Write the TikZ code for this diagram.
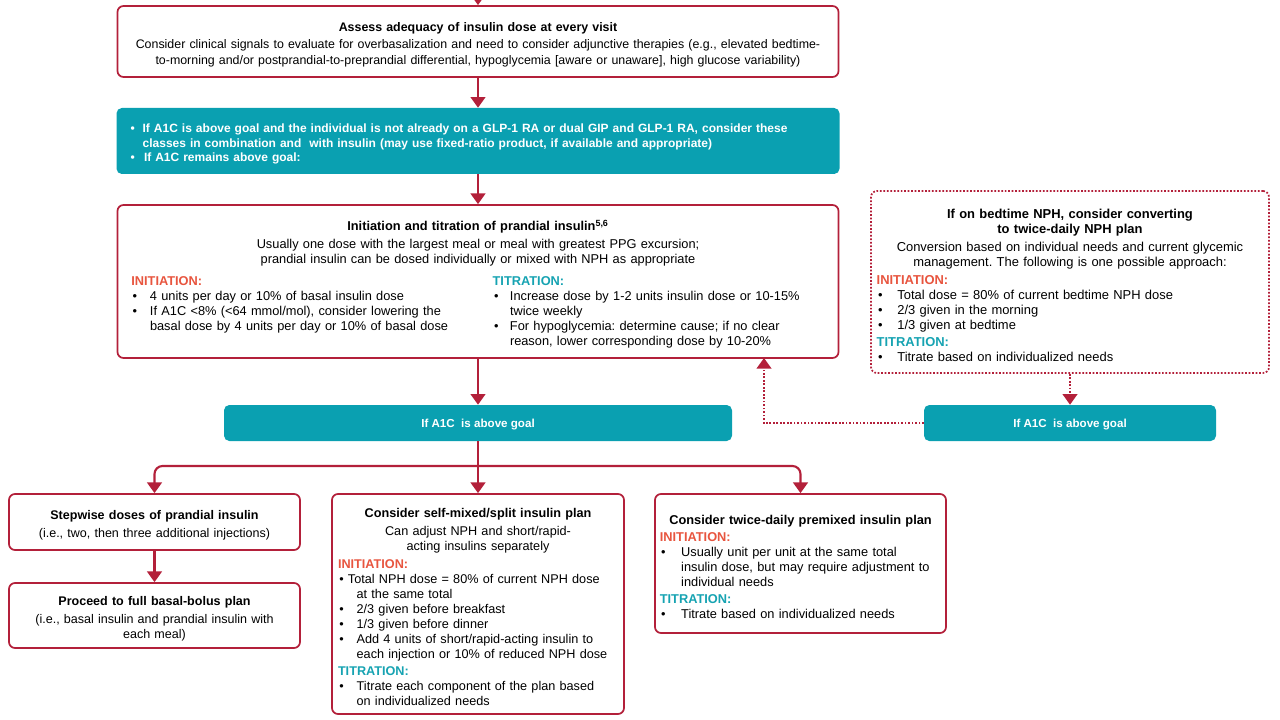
\documentclass[tikz,border=0pt]{standalone}
\usepackage{fontspec}
\setmainfont{Liberation Sans}
\usetikzlibrary{arrows.meta}
\setlength{\parindent}{0pt}
\frenchspacing
\definecolor{adared}{HTML}{B3203A}
\definecolor{adateal}{HTML}{0AA0B1}
\definecolor{initred}{HTML}{E8553F}
\definecolor{titteal}{HTML}{16A3B2}
\newcommand{\fsz}[2]{\fontsize{#1}{#2}\selectfont}
\newcommand{\itm}[2][14pt]{\par\hangindent=#1\hangafter=1\noindent\makebox[#1][l]{\hspace{1pt}\textbullet}#2}
\newcommand{\ini}{\leavevmode{\color{initred}\bfseries INITIATION:}}
\newcommand{\tit}{\leavevmode{\color{titteal}\bfseries TITRATION:}}
\begin{document}
\begin{tikzpicture}[x=0.75pt,y=-0.75pt, %1 unidade = 1 pixel
  redbox/.style={draw=adared, line width=1.3pt, rounded corners=4.5pt, fill=white, inner sep=2pt, align=left,
    execute at begin node=\rule{0pt}{12pt}},
  dotbox/.style={redbox, dash pattern=on 1.3pt off 1.3pt},
  tealbox/.style={fill=adateal, rounded corners=4pt, text=white, inner sep=2pt, align=left},
  goalbox/.style={tealbox, minimum height=27pt, align=center, text height=6.2pt, text depth=0pt, font=\fsz{8.7}{10}\bfseries},
  arr/.style={draw=adared, line width=1.6pt, -{Triangle[width=11pt,length=8pt]}},
  dotarr/.style={arr, dash pattern=on 1.3pt off 1.3pt}]
\useasboundingbox (0,0) rectangle (1280,720); %Moldura
  %Caixas de cima
\node[redbox, minimum width=540.75pt, minimum height=53.25pt, text width=532pt, font=\fsz{9.3}{12}] (assess) at (478,41.5)
  {{\centering\bfseries Assess adequacy of insulin dose at every visit\par}\vspace{1pt}
   {\centering Consider clinical signals to evaluate for overbasalization and need to consider adjunctive therapies (e.g., elevated bedtime-\\
   to-morning and/or postprandial-to-preprandial differential, hypoglycemia [aware or unaware], high glucose variability)\par}};
\node[tealbox, minimum width=542.25pt, minimum height=49.5pt, text width=523pt, font=\fsz{9}{11}\bfseries] (glp) at (478,141)
  {\itm[10pt]{If A1C is above goal and the individual is not already on a GLP-1 RA or dual GIP and GLP-1 RA, consider these\newline
   classes in combination and\ \ with insulin (may use fixed-ratio product, if available and appropriate)}
   \itm[11pt]{If A1C remains above goal:}\par};
\node[redbox, minimum width=540.75pt, minimum height=114.75pt, text width=520pt, font=\fsz{9.6}{11.25}] (prandial) at (478,281.5)
  {{\centering\bfseries Initiation and titration of prandial insulin\textsuperscript{5,6}\par}\vspace{2.2pt}
   {\centering Usually one dose with the largest meal or meal with greatest PPG excursion;\\
   prandial insulin can be dosed individually or mixed with NPH as appropriate\par}\vspace{5pt}
   \begin{minipage}[t]{271pt}\fsz{9.6}{11.25}
   \ini
   \itm{4 units per day or 10\% of basal insulin dose}
   \itm{If A1C <8\% (<64 mmol/mol), consider lowering the\newline basal dose by 4 units per day or 10\% of basal dose}
   \end{minipage}%
   \begin{minipage}[t]{249pt}\fsz{9.6}{11.25}
   \tit
   \itm[13pt]{Increase dose by 1-2 units insulin dose or 10-15\%\newline twice weekly}
   \itm[13pt]{For hypoglycemia: determine cause; if no clear\newline reason, lower corresponding dose by 10-20\%}
   \end{minipage}\par};
  %Caixa pontilhada NPH
\node[dotbox, minimum width=298.5pt, minimum height=136.5pt, text width=290pt, font=\fsz{9.7}{11.25}] (nph) at (1070,282)
  {{\centering\bfseries If on bedtime NPH, consider converting\\ to twice-daily NPH plan\par}\vspace{2pt}
   {\centering Conversion based on individual needs and current glycemic\\ management. The following is one possible approach:\par}\vspace{2pt}
   \ini
   \itm[15.5pt]{Total dose = 80\% of current bedtime NPH dose}
   \itm[15.5pt]{2/3 given in the morning}
   \itm[15.5pt]{1/3 given at bedtime}
   \par\vspace{1.5pt}
   \tit
   \itm[15.5pt]{Titrate based on individualized needs}\par};
  %Caixas "If A1C is above goal"
\node[goalbox, minimum width=381pt] (goal) at (478,423) {If A1C\ \ is above goal};
\node[goalbox, minimum width=219pt] (goalb) at (1070,423) {If A1C\ \ is above goal};
  %Caixas de baixo
\node[redbox, minimum width=218.25pt, minimum height=42pt, text width=214pt, align=center, font=\fsz{9.4}{11.25}] (stepwise) at (154.5,522)
  {{\bfseries Stepwise doses of prandial insulin\par}\vspace{2pt}(i.e., two, then three additional injections)};
\node[redbox, minimum width=218.25pt, minimum height=48.75pt, text width=214pt, align=center, font=\fsz{9.4}{11.25}] (basal) at (154.5,615.5)
  {{\bfseries Proceed to full basal-bolus plan\par}\vspace{2pt}(i.e., basal insulin and prandial insulin with\\ each meal)};
\node[redbox, minimum width=219pt, minimum height=165pt, text width=210pt, font=\fsz{9.5}{11.25}] (selfmix) at (478,604)
  {{\centering\bfseries Consider self-mixed/split insulin plan\par}\vspace{2pt}
   {\centering Can adjust NPH and short/rapid-\\acting insulins separately\par}\vspace{2pt}
   \ini
   \par\hangindent=14pt\hangafter=1\noindent\hspace{1pt}\textbullet\ Total NPH dose = 80\% of current NPH dose\newline at the same total
   \itm{2/3 given before breakfast}
   \itm{1/3 given before dinner}
   \itm{Add 4 units of short/rapid-acting insulin to\newline each injection or 10\% of reduced NPH dose}
   \par\vspace{2pt}
   \tit
   \itm{Titrate each component of the plan based\newline on individualized needs}\par};
\node[redbox, minimum width=218.25pt, minimum height=104.25pt, text width=211pt, font=\fsz{9.6}{11.25}] (premix) at (800.5,563.5)
  {{\centering\bfseries Consider twice-daily premixed insulin plan\par}\vspace{1.5pt}
   \ini
   \itm[16pt]{Usually unit per unit at the same total\newline insulin dose, but may require adjustment to\newline individual needs}
   \par\vspace{2pt}
   \tit
   \itm[16pt]{Titrate based on individualized needs}\par};
  %Setas
\coordinate (entry) at (478,-8);
\coordinate (split) at (478,466);
\coordinate (fb) at (764,358);
\draw[arr] (entry) -- (assess.north);
\draw[arr] (assess.south) -- (glp.north);
\draw[arr] (glp.south) -- (prandial.north);
\draw[arr] (prandial.south) -- (goal.north);
\draw[arr] (goal.south) -- (selfmix.north);
\draw[arr, rounded corners=6pt] (split) -| (stepwise.north);
\draw[arr, rounded corners=6pt] (split) -| (premix.north);
\draw[arr] (stepwise.south) -- (basal.north);
\draw[dotarr] (nph.south) -- (goalb.north);
\draw[dotarr] (goalb.west) -| (fb);
\end{tikzpicture}
\end{document}
